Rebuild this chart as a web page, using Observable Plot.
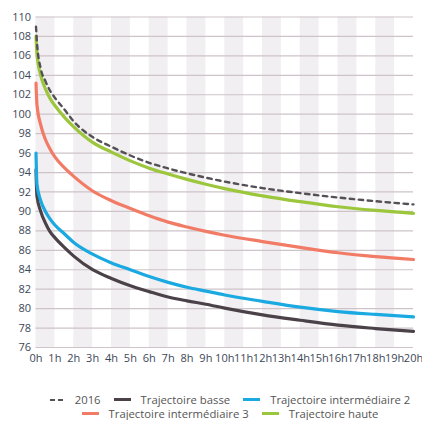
<!DOCTYPE html>
<html>
<head>
<meta charset="utf-8">
<script src="https://cdn.jsdelivr.net/npm/d3@7"></script>
<script src="https://cdn.jsdelivr.net/npm/@observablehq/plot@0.6"></script>
<style>
  body { margin: 0; background: #fff; font-family: "Open Sans", sans-serif; }
  #chart { width: 422px; height: 372px; }
  .legend { width: 384px; margin-left: 38px; font-size: 11.3px; line-height: 13px; color: #555; margin-top: 21px; }
  .row { display: flex; justify-content: center; align-items: center; height: 13.5px; }
  .item { display: flex; align-items: center; margin: 0 6.5px; }
  .sw { width: 17px; height: 3px; margin-right: 10px; }
</style>
</head>
<body>
<div id="chart"></div>
<script>
const hours = [0, 0.05, 0.25, 0.5, 0.75, 1, 1.5, 2, 3, 4, 5, 6, 7, 8, 9, 10, 12, 14, 16, 18, 20];
const s2016 = [109, 107.4, 104.7, 103.4, 102.4, 101.7, 100.5, 99.25, 97.65, 96.65, 95.75, 95.0, 94.42, 93.92, 93.47, 93.07, 92.4, 91.88, 91.43, 91.05, 90.72];
const basse = [94.3, 91.6, 90.0, 88.8, 87.9, 87.3, 86.3, 85.4, 84.0, 83.1, 82.35, 81.75, 81.2, 80.8, 80.45, 80.05, 79.35, 78.8, 78.3, 77.95, 77.65];
const inter2 = [96, 92.8, 91.1, 90.0, 89.2, 88.6, 87.7, 86.8, 85.6, 84.7, 84.0, 83.3, 82.7, 82.2, 81.8, 81.4, 80.75, 80.15, 79.7, 79.4, 79.15];
const inter3 = [103.2, 101, 98.9, 97.4, 96.4, 95.6, 94.5, 93.6, 92.1, 91.1, 90.3, 89.55, 88.9, 88.4, 87.95, 87.55, 86.9, 86.3, 85.75, 85.35, 85.05];
const haute = [108, 106.2, 104.0, 102.6, 101.6, 100.9, 99.7, 98.7, 97.1, 96.1, 95.2, 94.45, 93.85, 93.3, 92.8, 92.35, 91.6, 91.0, 90.48, 90.1, 89.8];

const seriesNames = ["2016", "Trajectoire basse", "Trajectoire intermédiaire 2", "Trajectoire intermédiaire 3", "Trajectoire haute"];
const seriesColors = ["#545055", "#4a4248", "#1aa9e0", "#f27b66", "#9cc63c"];
const xTicks = d3.range(0, 21);
const xTickLabels = xTicks.map(h => h + "h");
const yTicks = d3.range(76, 111, 2);

const toRows = (vals) => hours.map((h, i) => ({h, v: vals[i]}));
const bands = xTicks.filter(h => h % 2 === 0 && h < 20).map(h => ({x1: h, x2: h + 1}));

const chart = Plot.plot({
  width: 422,
  height: 372,
  marginLeft: 35.5,
  marginRight: 9,
  marginTop: 16.5,
  marginBottom: 25,
  style: { fontFamily: "Open Sans, sans-serif", fontSize: "11px", color: "#3c4858", background: "#fff" },
  x: { domain: [0, 20], ticks: xTicks, tickSize: 0, label: null },
  y: { domain: [76, 110], ticks: yTicks, tickSize: 0, label: null },
  marks: [
    Plot.rectX(bands, { x1: "x1", x2: "x2", y1: 76, y2: 110, fill: "#f1eff2" }),
    Plot.ruleY(yTicks, { x1: 0, x2: 20, stroke: "#cdc3c8", strokeWidth: 1.2 }),
    Plot.line(toRows(basse), { x: "h", y: "v", stroke: seriesColors[1], strokeWidth: 3.2, curve: "monotone-x" }),
    Plot.line(toRows(inter2), { x: "h", y: "v", stroke: seriesColors[2], strokeWidth: 3.2, curve: "monotone-x" }),
    Plot.line(toRows(inter3), { x: "h", y: "v", stroke: seriesColors[3], strokeWidth: 3.2, curve: "monotone-x" }),
    Plot.line(toRows(haute), { x: "h", y: "v", stroke: seriesColors[4], strokeWidth: 3.2, curve: "monotone-x" }),
    Plot.line(toRows(s2016), { x: "h", y: "v", stroke: seriesColors[0], strokeWidth: 2.4, strokeDasharray: "4.5,4.5", curve: "monotone-x" }),
    Plot.axisX({ ticks: xTicks, tickFormat: (d, i) => xTickLabels[i], tickSize: 0, tickPadding: 7, label: null }),
    Plot.axisY({ ticks: yTicks, tickSize: 0, tickPadding: 5, label: null })
  ]
});
document.getElementById("chart").appendChild(chart);

const legend = document.createElement("div");
legend.className = "legend";
const rowsDef = [[0, 1, 2], [3, 4]];
for (const r of rowsDef) {
  const row = document.createElement("div");
  row.className = "row";
  for (const i of r) {
    const item = document.createElement("div");
    item.className = "item";
    const sw = document.createElement("span");
    sw.className = "sw";
    if (i === 0) {
      sw.style.background = `repeating-linear-gradient(to right, ${seriesColors[0]} 0 5px, transparent 5px 8px)`;
      sw.style.height = "2.5px";
      sw.style.width = "13px";
      sw.style.marginRight = "12px";
    } else {
      sw.style.background = seriesColors[i];
    }
    const t = document.createElement("span");
    t.textContent = seriesNames[i];
    item.appendChild(sw);
    item.appendChild(t);
    row.appendChild(item);
  }
  legend.appendChild(row);
}
document.body.appendChild(legend);
</script>
</body>
</html>
